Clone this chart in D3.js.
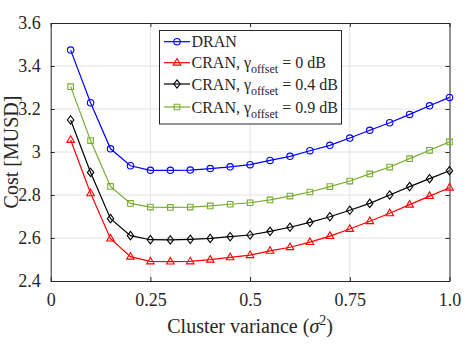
<!DOCTYPE html>
<html>
<head>
<meta charset="utf-8">
<script src="https://cdn.jsdelivr.net/npm/d3@7"></script>
<style>
  html, body { margin: 0; padding: 0; background: #fff; }
  svg text { font-family: 'Liberation Serif', 'Times New Roman', serif !important; fill: #262626; }
</style>
</head>
<body>
<div id="chart"></div>
<script>
// cluster variance (x) and cost in MUSD for each scheme
const variance = [0.05, 0.10, 0.15, 0.20, 0.25, 0.30, 0.35, 0.40, 0.45, 0.50,
                  0.55, 0.60, 0.65, 0.70, 0.75, 0.80, 0.85, 0.90, 0.95, 1.00];
const dran   = [3.474, 3.229, 3.015, 2.936, 2.915, 2.915, 2.916, 2.923, 2.931, 2.941,
                2.961, 2.980, 3.006, 3.031, 3.065, 3.101, 3.136, 3.175, 3.215, 3.254];
const cran0  = [3.056, 2.808, 2.597, 2.513, 2.491, 2.490, 2.491, 2.499, 2.510, 2.520,
                2.540, 2.557, 2.581, 2.609, 2.642, 2.678, 2.715, 2.755, 2.795, 2.834];
const cran04 = [3.149, 2.905, 2.690, 2.611, 2.592, 2.591, 2.594, 2.598, 2.606, 2.614,
                2.631, 2.650, 2.673, 2.699, 2.729, 2.761, 2.800, 2.839, 2.876, 2.913];
const cran09 = [3.304, 3.053, 2.840, 2.761, 2.744, 2.742, 2.744, 2.749, 2.757, 2.764,
                2.777, 2.795, 2.814, 2.839, 2.865, 2.898, 2.930, 2.969, 3.008, 3.047];

const xTicks = [0, 0.25, 0.5, 0.75, 1.0];
const xTickLabels = ['0', '0.25', '0.5', '0.75', '1.0'];
const yTicks = [2.4, 2.6, 2.8, 3.0, 3.2, 3.4, 3.6];
const yTickLabels = ['2.4', '2.6', '2.8', '3', '3.2', '3.4', '3.6'];

const series = [
    { name: 'DRAN', offset: null, values: dran, color: '#0000ff', marker: 'circle' },
    { name: 'CRAN', offset: '0', values: cran0, color: '#ff0000', marker: 'triangle' },
    { name: 'CRAN', offset: '0.4', values: cran04, color: '#000000', marker: 'diamond' },
    { name: 'CRAN', offset: '0.9', values: cran09, color: '#77ac30', marker: 'square' }
];

const SERIF = "'Liberation Serif', 'Times New Roman', serif";
const W = 467, H = 351;
const m = { top: 23, right: 17.5, bottom: 70, left: 50.7 };
const w = W - m.left - m.right;
const h = H - m.top - m.bottom;

const svg = d3.select('#chart').append('svg')
    .attr('width', W).attr('height', H)
    .style('font-family', SERIF);
const g = svg.append('g').attr('transform', `translate(${m.left},${m.top})`);

const x = d3.scaleLinear().domain([0, 1]).range([0, w]);
const y = d3.scaleLinear().domain([2.4, 3.6]).range([h, 0]);

// grid
xTicks.slice(1, -1).forEach(t => {
    g.append('line').attr('x1', x(t)).attr('x2', x(t)).attr('y1', 0).attr('y2', h)
        .attr('stroke', '#e3e3e3').attr('stroke-width', 1);
});
yTicks.slice(1, -1).forEach(t => {
    g.append('line').attr('x1', 0).attr('x2', w).attr('y1', y(t)).attr('y2', y(t))
        .attr('stroke', '#e3e3e3').attr('stroke-width', 1);
});

// axes (inward ticks, box on)
const tl = 4;
const axisBottom = g.append('g').attr('transform', `translate(0,${h})`)
    .call(d3.axisBottom(x).tickValues(xTicks).tickSizeInner(-tl).tickSizeOuter(0)
        .tickPadding(12).tickFormat((d, i) => xTickLabels[i]));
const axisLeft = g.append('g')
    .call(d3.axisLeft(y).tickValues(yTicks).tickSizeInner(-tl).tickSizeOuter(0)
        .tickPadding(10).tickFormat((d, i) => yTickLabels[i]));
const axisTop = g.append('g')
    .call(d3.axisTop(x).tickValues(xTicks).tickSizeInner(-tl).tickSizeOuter(0).tickFormat(''));
const axisRight = g.append('g').attr('transform', `translate(${w},0)`)
    .call(d3.axisRight(y).tickValues(yTicks).tickSizeInner(-tl).tickSizeOuter(0).tickFormat(''));

[axisBottom, axisLeft, axisTop, axisRight].forEach(a => {
    a.attr('font-family', null).attr('font-size', null);
    a.select('.domain').attr('stroke', '#262626');
    a.selectAll('.tick line').attr('stroke', '#262626');
    a.selectAll('.tick text')
        .style('font-family', SERIF).style('font-size', '18px').attr('fill', '#262626');
});
axisBottom.selectAll('.tick text').attr('dy', '0.71em');

// lines + markers
const line = d3.line().x(d => x(d[0])).y(d => y(d[1]));

function markerPath(type) {
    if (type === 'triangle') return 'M0,-4.2L3.8,2.4L-3.8,2.4Z';
    if (type === 'diamond') return 'M0,-4.2L3.2,0L0,4.2L-3.2,0Z';
    if (type === 'square') return 'M-2.8,-2.8H2.8V2.8H-2.8Z';
    return null;
}

function drawMarker(sel, type, color, cx, cy) {
    if (type === 'circle') {
        sel.append('circle').attr('cx', cx).attr('cy', cy).attr('r', 3.2)
            .attr('fill', 'none').attr('stroke', color).attr('stroke-width', 1.1);
    } else {
        sel.append('path').attr('d', markerPath(type))
            .attr('transform', `translate(${cx},${cy})`)
            .attr('fill', 'none').attr('stroke', color).attr('stroke-width', 1.1);
    }
}

series.forEach(s => {
    const pts = variance.map((v, i) => [v, s.values[i]]);
    g.append('path').datum(pts)
        .attr('d', line).attr('fill', 'none')
        .attr('stroke', s.color).attr('stroke-width', 1.2);
    pts.forEach(p => drawMarker(g, s.marker, s.color, x(p[0]), y(p[1])));
});

// axis labels
const xl = svg.append('text')
    .attr('x', m.left + w / 2).attr('y', 333)
    .attr('text-anchor', 'middle').style('font-size', '20px');
xl.append('tspan').text('Cluster variance (');
xl.append('tspan').attr('font-style', 'italic').text('σ');
xl.append('tspan').style('font-size', '14px').attr('dy', -8).text('2');
xl.append('tspan').attr('dy', 8).text(')');

svg.append('text')
    .attr('transform', `translate(18,${m.top + h / 2}) rotate(-90)`)
    .attr('text-anchor', 'middle').style('font-size', '20px')
    .text('Cost [MUSD]');

// legend
const lg = svg.append('g').attr('transform', 'translate(159.5,30.5)');
lg.append('rect').attr('width', 182).attr('height', 93.5)
    .attr('fill', '#fff').attr('stroke', '#262626').attr('stroke-width', 1);
const rowY = [11.2, 32.2, 53.5, 76.5];
series.forEach((s, i) => {
    const ry = rowY[i];
    lg.append('line').attr('x1', 4.5).attr('x2', 30.5).attr('y1', ry).attr('y2', ry)
        .attr('stroke', s.color).attr('stroke-width', 1.2);
    drawMarker(lg, s.marker, s.color, 17.5, ry);
    const t = lg.append('text').attr('x', 32).attr('y', ry + 5.5).style('font-size', '16px');
    if (s.offset === null) {
        t.text(s.name);
    } else {
        t.append('tspan').text(`${s.name}, γ`);
        t.append('tspan').style('font-size', '12px').attr('dy', 5).text('offset');
        t.append('tspan').attr('dy', -5).text(` = ${s.offset} dB`);
    }
});
</script>
</body>
</html>
